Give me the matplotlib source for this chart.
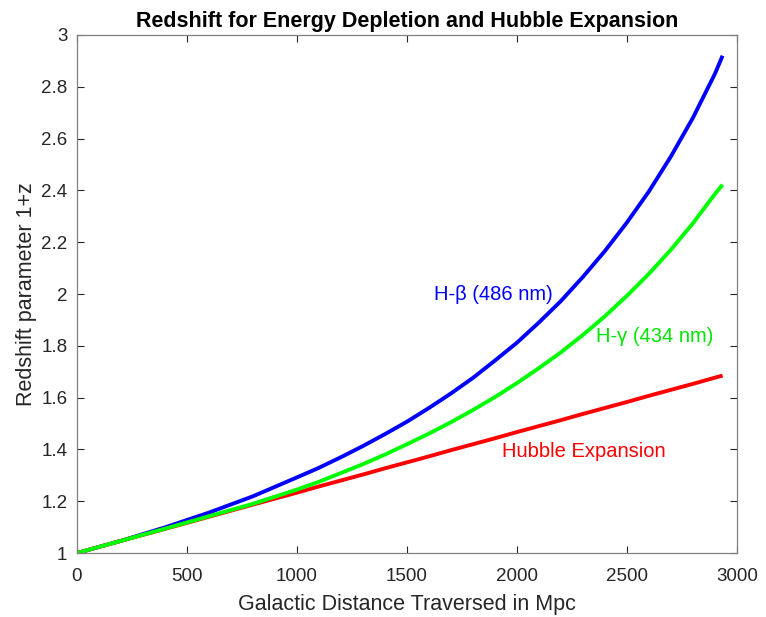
import matplotlib
matplotlib.use("Agg")
import matplotlib.pyplot as plt

# distance traversed in Mpc
distance = [0, 200, 400, 600, 800, 1000, 1100, 1200, 1300, 1400, 1500, 1600, 1700, 1800,
            1900, 2000, 2100, 2200, 2300, 2400, 2500, 2600, 2700, 2800, 2900, 2935]

# 1+z
h_beta = [1.000, 1.047, 1.099, 1.156, 1.219, 1.292, 1.329, 1.370, 1.413, 1.459, 1.507,
          1.560, 1.616, 1.676, 1.743, 1.812, 1.890, 1.973, 2.066, 2.166, 2.276, 2.396,
          2.531, 2.680, 2.850, 2.920]
h_gamma = [1.000, 1.047, 1.094, 1.142, 1.190, 1.245, 1.275, 1.309, 1.343, 1.380, 1.420,
           1.461, 1.505, 1.552, 1.602, 1.656, 1.714, 1.775, 1.842, 1.914, 1.993, 2.078,
           2.171, 2.273, 2.386, 2.422]
hubble = [1.000, 1.047, 1.093, 1.140, 1.187, 1.233, 1.257, 1.280, 1.303, 1.327, 1.350,
          1.373, 1.397, 1.420, 1.443, 1.467, 1.490, 1.513, 1.537, 1.560, 1.583, 1.607,
          1.630, 1.653, 1.677, 1.685]

plt.rcParams['font.family'] = ['Liberation Sans', 'DejaVu Sans']

fig = plt.figure(figsize=(7.66, 6.17), dpi=100)
ax = fig.add_axes([0.1005, 0.1037, 0.8615, 0.8396])

ax.plot(distance, h_beta, color='#0000ff', lw=2.8, solid_capstyle='butt')
ax.plot(distance, hubble, color='#ff0000', lw=2.8, solid_capstyle='butt')
ax.plot(distance, h_gamma, color='#00ff00', lw=2.8, solid_capstyle='butt')

ax.text(1625, 2.0, 'H-β (486 nm)', color='#0000ff', fontsize=14.5, va='center')
ax.text(2360, 1.834, 'H-γ (434 nm)', color='#00e600', fontsize=14.5, va='center')
ax.text(1932, 1.391, 'Hubble Expansion', color='#ff0000', fontsize=14.5, va='center')

ax.set_xlim(0, 3000)
ax.set_ylim(1, 3)
ax.set_xticks(range(0, 3001, 500))
ax.set_yticks([1, 1.2, 1.4, 1.6, 1.8, 2, 2.2, 2.4, 2.6, 2.8, 3])
ax.set_yticklabels(['1', '1.2', '1.4', '1.6', '1.8', '2', '2.2', '2.4', '2.6', '2.8', '3'])

ax.tick_params(direction='in', length=5, width=0.8, top=True, right=True,
               labelsize=13.5, colors='#262626')
ax.tick_params(axis='x', pad=11)
ax.tick_params(axis='y', pad=7)
for s in ax.spines.values():
    s.set_color('#808080')
    s.set_linewidth(0.9)

ax.set_xlabel('Galactic Distance Traversed in Mpc', fontsize=15.5, color='#262626', labelpad=6)
ax.set_ylabel('Redshift parameter 1+z', fontsize=15.5, color='#262626', labelpad=3)
ax.set_title('Redshift for Energy Depletion and Hubble Expansion',
             fontsize=15.5, fontweight='bold', pad=6)

fig.savefig('out.png', dpi=100)
